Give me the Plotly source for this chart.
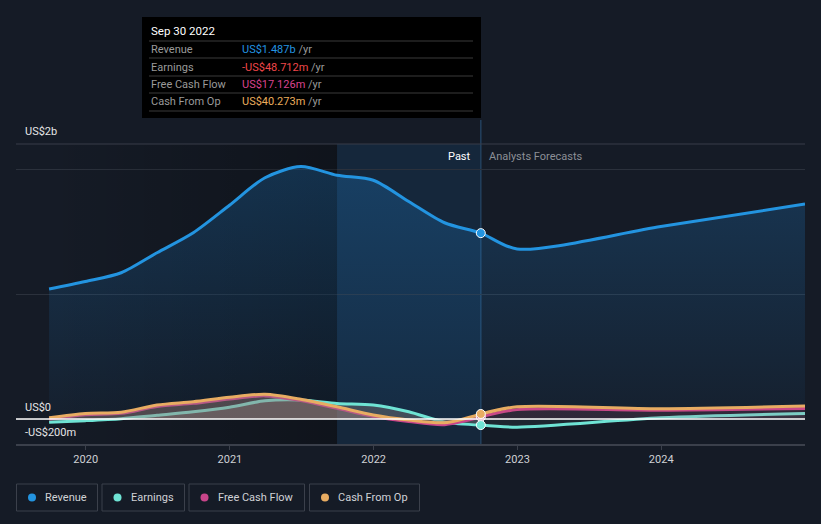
import plotly.graph_objects as go

# ---------------- data ----------------
past_dates = ["2019-09-30", "2019-12-31", "2020-03-31", "2020-06-30", "2020-09-30",
              "2020-12-31", "2021-03-31", "2021-06-30", "2021-09-30", "2021-12-31",
              "2022-03-31", "2022-06-30", "2022-09-30"]
fc_dates = ["2022-09-30", "2022-12-31", "2023-12-31", "2024-12-31"]

revenue_past = [1.04, 1.10, 1.17, 1.33, 1.49, 1.71, 1.93, 2.02, 1.95, 1.91, 1.74, 1.57, 1.487]
revenue_fc = [1.487, 1.36, 1.54, 1.72]

earnings_past = [-25, -13, 3, 30, 58, 94, 146, 152, 125, 112, 58, -25, -48.712]
earnings_fc = [-48.712, -65, 10, 45]

fcf_past = [0, 35, 45, 100, 125, 160, 185, 148, 85, 20, -20, -45, 17.126]
fcf_fc = [17.126, 75, 70, 85]

cfo_past = [10, 45, 54, 112, 138, 174, 198, 158, 98, 32, -8, -30, 40.273]
cfo_fc = [40.273, 98, 82, 104]

x_ticks = ["2020-01-01", "2021-01-01", "2022-01-01", "2023-01-01", "2024-01-01"]
x_tick_labels = ["2020", "2021", "2022", "2023", "2024"]

tooltip_title = "Sep 30 2022"
tooltip_rows = [("Revenue", "US$1.487b", "#2394e0"),
                ("Earnings", "-US$48.712m", "#f0474a"),
                ("Free Cash Flow", "US$17.126m", "#d9438f"),
                ("Cash From Op", "US$40.273m", "#eaad5d")]
legend_items = [("Revenue", "#2394e0"), ("Earnings", "#6fe3d4"),
                ("Free Cash Flow", "#c8458a"), ("Cash From Op", "#e8ac62")]

# ---------------- styles ----------------
BG = "#151b26"
W, H = 821, 524
L, R, T, B = 16, 16, 144, 80
PW = W - L - R
PH = H - T - B
REV_C = "#2394e0"
ERN_C = "#6fe3d4"
FCF_C = "#c8458a"
CFO_C = "#e8ac62"
FONT = "Roboto"
Y_RANGE = [-0.2, 2.2]


def px(x):
    return (x - L) / PW


def py(y):
    return (H - B - y) / PH


def m2b(vals):
    return [v / 1000 for v in vals]


fig = go.Figure()

# darker past region (horizontal gradient)
fig.add_trace(go.Scatter(
    x=[past_dates[0], past_dates[8], past_dates[8], past_dates[0], past_dates[0]],
    y=[Y_RANGE[0], Y_RANGE[0], Y_RANGE[1], Y_RANGE[1], Y_RANGE[0]],
    mode="lines", line=dict(width=0), fill="toself",
    fillgradient=dict(type="horizontal",
                      colorscale=[[0, "rgba(0,0,0,0)"], [1, "rgba(0,0,0,0.28)"]]),
    hoverinfo="skip", showlegend=False))

# revenue
fig.add_trace(go.Scatter(
    x=past_dates + fc_dates[1:], y=revenue_past + revenue_fc[1:],
    mode="lines", line=dict(color=REV_C, width=3, shape="spline", smoothing=0.8),
    fill="tozeroy",
    fillgradient=dict(type="vertical", start=0, stop=2.0,
                      colorscale=[[0, "rgba(33,150,243,0.04)"], [1, "rgba(33,150,243,0.22)"]]),
    hoverinfo="skip", showlegend=False))


# small series: past and forecast parts
def add_small(dates, vals, color, fill, width=3):
    fig.add_trace(go.Scatter(
        x=dates, y=m2b(vals), mode="lines",
        line=dict(color=color, width=width, shape="spline", smoothing=0.8),
        fill="tozeroy", fillcolor=fill, hoverinfo="skip", showlegend=False))


add_small(past_dates, earnings_past, ERN_C, "rgba(150,140,135,0.35)")
add_small(fc_dates, earnings_fc, ERN_C, "rgba(120,140,140,0.10)")
add_small(past_dates, fcf_past, FCF_C, "rgba(170,110,120,0.20)")
add_small(fc_dates, fcf_fc, FCF_C, "rgba(200,70,130,0.10)")
add_small(past_dates, cfo_past, CFO_C, "rgba(150,135,125,0.30)")
add_small(fc_dates, cfo_fc, CFO_C, "rgba(200,140,110,0.06)")

# markers at the last reported point
mk_x = [past_dates[-1]] * 4
mk_y = [revenue_past[-1], fcf_past[-1] / 1000, cfo_past[-1] / 1000, earnings_past[-1] / 1000]
fig.add_trace(go.Scatter(
    x=mk_x, y=mk_y, mode="markers",
    marker=dict(size=9, color=[REV_C, FCF_C, CFO_C, ERN_C], line=dict(color="white", width=1)),
    hoverinfo="skip", showlegend=False))

shapes = []
# highlighted last year
shapes.append(dict(type="rect", xref="x", yref="paper", x0="2021-09-30", x1="2022-09-30",
                   y0=0, y1=1, fillcolor="rgba(33,150,243,0.10)", line_width=0, layer="below"))
# vertical line at the last reported point
shapes.append(dict(type="line", xref="x", yref="paper", x0="2022-09-30", x1="2022-09-30",
                   y0=0, y1=py(120), line=dict(color="#23405e", width=1.5), layer="below"))
# top border line
shapes.append(dict(type="line", xref="paper", yref="paper", x0=0, x1=1, y0=1, y1=1,
                   line=dict(color="#383d48", width=1)))
# zero line
shapes.append(dict(type="line", xref="paper", yref="y", x0=0, x1=1, y0=0, y1=0,
                   line=dict(color="#ffffff", width=1.5)))

# tooltip box
shapes.append(dict(type="rect", xref="paper", yref="paper", x0=px(142), x1=px(481),
                   y0=py(118), y1=py(17), fillcolor="#000000", line_width=0))
for sy in [41, 58, 76, 93, 111]:
    shapes.append(dict(type="line", xref="paper", yref="paper", x0=px(149), x1=px(473),
                       y0=py(sy), y1=py(sy), line=dict(color="#3a3a3a", width=1)))

annotations = []
annotations.append(dict(xref="paper", yref="paper", x=px(149), y=py(31), text=tooltip_title,
                        showarrow=False, xanchor="left", yanchor="middle",
                        font=dict(family=FONT, size=11.5, color="#ffffff")))
row_y = [49, 67, 84, 101.5]
for (name, val, col), ry in zip(tooltip_rows, row_y):
    annotations.append(dict(xref="paper", yref="paper", x=px(149), y=py(ry), text=name,
                            showarrow=False, xanchor="left", yanchor="middle",
                            font=dict(family=FONT, size=11, color="#9a9a9a")))
    annotations.append(dict(xref="paper", yref="paper", x=px(240), y=py(ry),
                            text=f"<span style='color:{col}'>{val}</span> /yr",
                            showarrow=False, xanchor="left", yanchor="middle",
                            font=dict(family=FONT, size=11, color="#9a9a9a")))

# y labels
for txt, yy in [("US$2b", 131), ("US$0", 407), ("-US$200m", 432)]:
    annotations.append(dict(xref="paper", yref="paper", x=px(23), y=py(yy), text=txt,
                            showarrow=False, xanchor="left", yanchor="middle",
                            font=dict(family=FONT, size=11, color="#e6e6e6")))

# Past / Analysts Forecasts
annotations.append(dict(xref="paper", yref="paper", x=px(473), y=py(156), text="Past",
                        showarrow=False, xanchor="right", yanchor="middle",
                        font=dict(family=FONT, size=11, color="#ffffff")))
annotations.append(dict(xref="paper", yref="paper", x=px(487), y=py(156), text="Analysts Forecasts",
                        showarrow=False, xanchor="left", yanchor="middle",
                        font=dict(family=FONT, size=11, color="#8c8f96")))

# custom legend
leg_boxes = [(16.5, 97.5), (102, 184.5), (189, 304.5), (309.5, 419.5)]
for (name, col), (x0, x1) in zip(legend_items, leg_boxes):
    shapes.append(dict(type="rect", xref="paper", yref="paper", x0=px(x0), x1=px(x1),
                       y0=py(511), y1=py(484), line=dict(color="#3b404b", width=1),
                       fillcolor="rgba(0,0,0,0)"))
    shapes.append(dict(type="circle", xref="paper", yref="paper", x0=px(x0 + 11.5), x1=px(x0 + 19.5),
                       y0=py(501.5), y1=py(493.5), line_width=0, fillcolor=col))
    annotations.append(dict(xref="paper", yref="paper", x=px(x0 + 26.5), y=py(497.5), text=name,
                            showarrow=False, xanchor="left", yanchor="middle",
                            font=dict(family=FONT, size=11, color="#d0d2d6")))

fig.update_layout(
    width=W, height=H,
    margin=dict(l=L, r=R, t=T, b=B),
    paper_bgcolor=BG, plot_bgcolor=BG,
    showlegend=False,
    shapes=shapes, annotations=annotations,
    xaxis=dict(type="date", range=["2019-07-08", "2024-12-31"],
               tickvals=x_ticks, ticktext=x_tick_labels, showgrid=False, zeroline=False,
               showline=True, linecolor="#3b404b", linewidth=1.5,
               ticks="outside", tickcolor="#3b404b", ticklen=4,
               tickfont=dict(family=FONT, size=11, color="#cfd1d5")),
    yaxis=dict(range=Y_RANGE, tickvals=[0, 1, 2], showticklabels=False,
               showgrid=True, gridcolor="#2b313c", gridwidth=1, zeroline=False),
)

fig.write_html("out.html", config={"displayModeBar": False},
               post_script="document.body.style.margin='0';document.body.style.padding='0';"
                           "document.body.style.background='#151b26';")
